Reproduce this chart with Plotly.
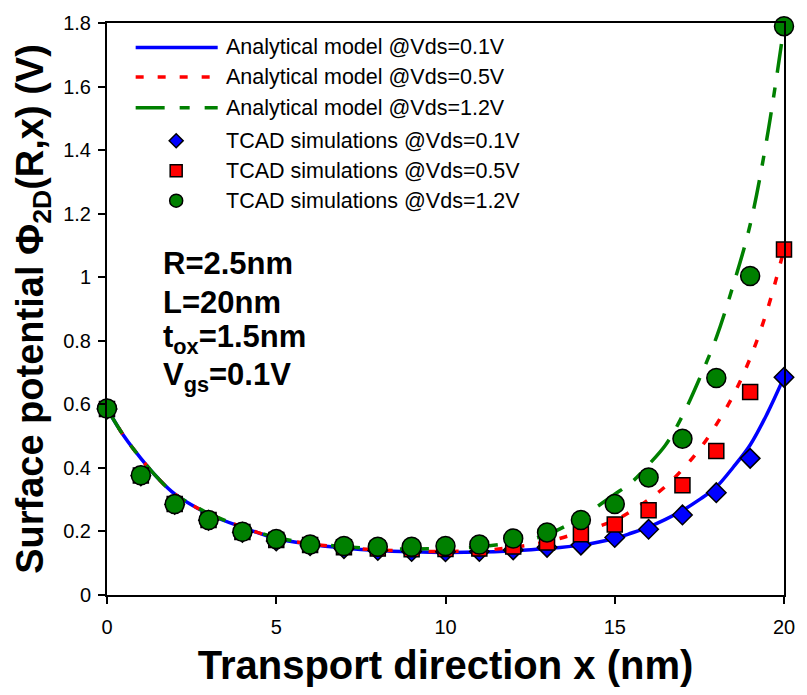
import plotly.graph_objects as go

# ---- TCAD simulation points (x in nm, potential in V) ----
x_tcad = [0, 1, 2, 3, 4, 5, 6, 7, 8, 9, 10, 11, 12, 13, 14, 15, 16, 17, 18, 19, 20]
tcad_01 = [0.585, 0.375, 0.285, 0.235, 0.197, 0.170, 0.155, 0.146, 0.140, 0.137, 0.136,
           0.137, 0.142, 0.150, 0.157, 0.181, 0.207, 0.252, 0.322, 0.430, 0.685]
tcad_05 = [0.585, 0.376, 0.286, 0.236, 0.198, 0.173, 0.157, 0.150, 0.146, 0.144, 0.145,
           0.146, 0.153, 0.165, 0.191, 0.222, 0.267, 0.345, 0.453, 0.639, 1.087]
tcad_12 = [0.587, 0.377, 0.286, 0.236, 0.199, 0.176, 0.159, 0.154, 0.152, 0.152, 0.154,
           0.159, 0.178, 0.197, 0.236, 0.286, 0.370, 0.492, 0.683, 1.004, 1.790]

# ---- analytical model curves ----
x_model = [0, 0.5, 1, 1.5, 2, 3, 4, 5, 6, 7, 8, 9, 10, 11, 12, 13, 14,
           15, 15.5, 16, 16.5, 17, 17.5, 18, 18.5, 19, 19.5, 20]
model_01 = [0.587, 0.500, 0.430, 0.368, 0.318, 0.255, 0.213, 0.178, 0.160, 0.148, 0.140,
            0.136, 0.134, 0.135, 0.139, 0.146, 0.157, 0.178, 0.195, 0.214, 0.238, 0.266,
            0.300, 0.340, 0.402, 0.472, 0.570, 0.685]
model_05 = [0.587, 0.500, 0.430, 0.368, 0.318, 0.256, 0.214, 0.179, 0.161, 0.150, 0.142,
            0.138, 0.137, 0.140, 0.150, 0.168, 0.198, 0.235, 0.265, 0.300, 0.342, 0.395,
            0.458, 0.536, 0.628, 0.745, 0.895, 1.087]
model_12 = [0.587, 0.500, 0.430, 0.368, 0.318, 0.257, 0.215, 0.181, 0.163, 0.152, 0.146,
            0.145, 0.147, 0.152, 0.165, 0.190, 0.245, 0.317, 0.355, 0.410, 0.472, 0.564,
            0.680, 0.810, 0.975, 1.165, 1.440, 1.790]

x_ticks = [0, 5, 10, 15, 20]
y_ticks = [0, 0.2, 0.4, 0.6, 0.8, 1.0, 1.2, 1.4, 1.6, 1.8]

legend_labels = [
    "Analytical model @Vds=0.1V",
    "Analytical model @Vds=0.5V",
    "Analytical model @Vds=1.2V",
    "TCAD simulations @Vds=0.1V",
    "TCAD simulations @Vds=0.5V",
    "TCAD simulations @Vds=1.2V",
]
params = ["R=2.5nm", "L=20nm", "t<sub>ox</sub>=1.5nm", "V<sub>gs</sub>=0.1V"]

BLUE, RED, GREEN = "#0000FF", "#FF0000", "#008000"
FONT = "Liberation Sans, Arial, sans-serif"
DASH_RED = "8px,14px"
DASH_GREEN = "29px,15px,10px,15px"

fig = go.Figure()

# model curves
fig.add_trace(go.Scatter(x=x_model, y=model_01, mode="lines",
                         line=dict(color=BLUE, width=3.5, shape="spline"),
                         cliponaxis=False, showlegend=False))
fig.add_trace(go.Scatter(x=x_model, y=model_05, mode="lines",
                         line=dict(color=RED, width=3.5, dash=DASH_RED, shape="spline"),
                         cliponaxis=False, showlegend=False))
fig.add_trace(go.Scatter(x=x_model, y=model_12, mode="lines",
                         line=dict(color=GREEN, width=3.5, dash=DASH_GREEN, shape="spline"),
                         cliponaxis=False, showlegend=False))

# simulation markers
mk_line = dict(color="black", width=1.5)
fig.add_trace(go.Scatter(x=x_tcad, y=tcad_01, mode="markers",
                         marker=dict(symbol="diamond", size=15, color=BLUE, line=mk_line),
                         cliponaxis=False, showlegend=False))
fig.add_trace(go.Scatter(x=x_tcad, y=tcad_05, mode="markers",
                         marker=dict(symbol="square", size=15, color=RED, line=mk_line),
                         cliponaxis=False, showlegend=False))
fig.add_trace(go.Scatter(x=x_tcad, y=tcad_12, mode="markers",
                         marker=dict(symbol="circle", size=19, color=GREEN, line=mk_line),
                         cliponaxis=False, showlegend=False))

# ---- hand-built legend (long line samples) ----
L, R_, T, B, W, H = 107, 792, 22, 595, 807, 695
def px(x):
    return (x - L) / (R_ - L)
def py(y):
    return (B - y) / (B - T)

row_y = [46.5, 76, 107, 140, 170, 200]
line_x0, line_x1, mark_x, text_x = 136, 219, 177, 225

shapes = []
annotations = []
line_styles = [(BLUE, "solid"), (RED, DASH_RED), (GREEN, DASH_GREEN)]
for i, (c, d) in enumerate(line_styles):
    shapes.append(dict(type="line", xref="paper", yref="paper",
                       x0=px(line_x0), x1=px(line_x1), y0=py(row_y[i]), y1=py(row_y[i]),
                       line=dict(color=c, width=3.5, dash=d)))
marker_shapes = [
    dict(type="path", path="M0,-7 L7,0 L0,7 L-7,0 Z", fillcolor=BLUE),
    dict(type="rect", x0=-6, x1=6, y0=-6, y1=6, fillcolor=RED),
    dict(type="circle", x0=-6.5, x1=6.5, y0=-6.5, y1=6.5, fillcolor=GREEN),
]
for j, ms in enumerate(marker_shapes):
    s = dict(xref="paper", yref="paper", xsizemode="pixel", ysizemode="pixel",
             xanchor=px(mark_x), yanchor=py(row_y[3 + j]),
             line=dict(color="black", width=1.5))
    s.update(ms)
    shapes.append(s)
for i, lab in enumerate(legend_labels):
    annotations.append(dict(xref="paper", yref="paper", x=px(text_x), y=py(row_y[i]),
                            xanchor="left", yanchor="middle", showarrow=False,
                            text=lab, font=dict(family=FONT, size=21.5, color="black")))

# ---- device parameters ----
param_y = [263, 302, 339, 377]
for t, yy in zip(params, param_y):
    annotations.append(dict(xref="paper", yref="paper", x=px(162), y=py(yy),
                            xanchor="left", yanchor="middle", showarrow=False,
                            text="<b>" + t + "</b>",
                            font=dict(family=FONT, size=31, color="black")))

axis_common = dict(showline=True, linecolor="black", linewidth=2, mirror=True,
                   ticks="outside", ticklen=7, tickwidth=1.5, tickcolor="black",
                   showgrid=False, zeroline=False,
                   tickfont=dict(family=FONT, size=20, color="black"))

fig.update_layout(
    width=W, height=H,
    margin=dict(l=L, r=W - R_, t=T, b=H - B),
    plot_bgcolor="white", paper_bgcolor="white",
    showlegend=False,
    shapes=shapes, annotations=annotations,
    xaxis=dict(range=[0, 20], tickvals=x_ticks, ticklabelstandoff=6, **axis_common,
               title=dict(text="<b>Transport direction x (nm)</b>", standoff=14,
                          font=dict(family=FONT, size=40, color="black"))),
    yaxis=dict(range=[0, 1.8], tickvals=y_ticks, ticklabelstandoff=3, **axis_common,
               title=dict(text="<b>Surface potential Φ<sub>2D</sub>(R,x) (V)</b>", standoff=8,
                          font=dict(family=FONT, size=38, color="black"))),
)

fig.write_html("out.html")
